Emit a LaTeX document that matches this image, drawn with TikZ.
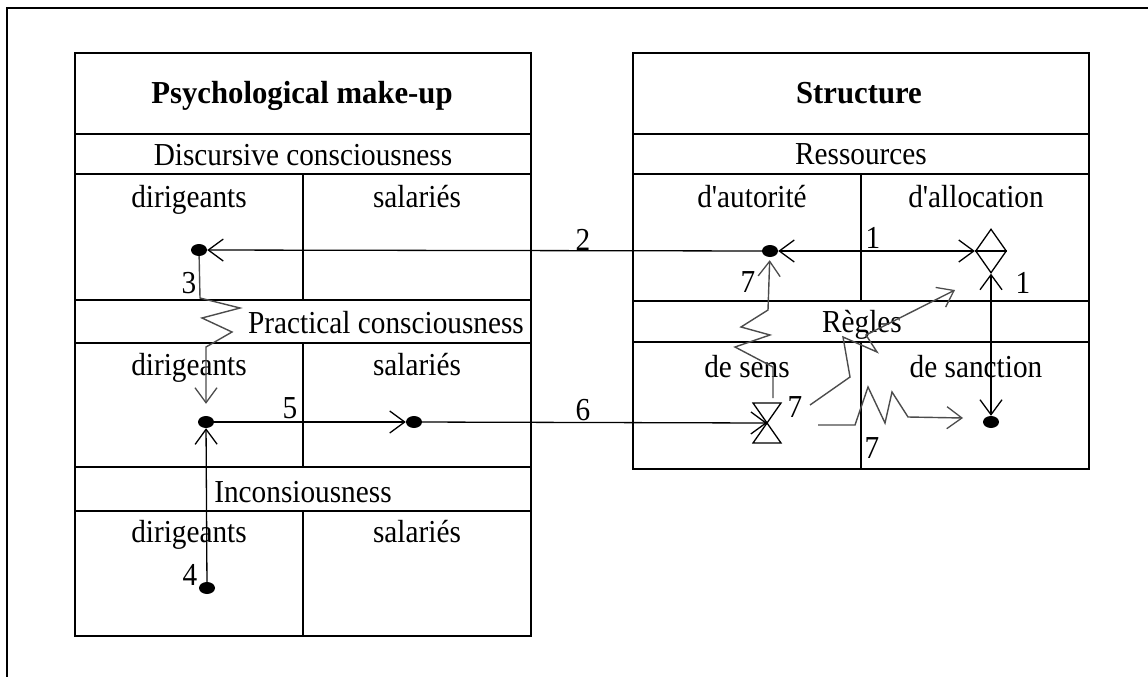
\documentclass[tikz,border=0pt]{standalone}
\usepackage{fontspec}
\usepackage{graphicx}
\setmainfont{Liberation Serif}
\usetikzlibrary{arrows.meta,shapes.geometric}
\newcommand\sqz[1]{\scalebox{0.915}[1]{#1}}
\newcommand\sqb[1]{\scalebox{0.96}[1]{\bfseries #1}}
\newcommand\sapos{\XeTeXglyph\XeTeXglyphindex "quotesingle"\relax}
\begin{document}
\begin{tikzpicture}[x=1pt,y=-1pt,
  frame/.style={line width=1.6pt},
  tbl/.style={line width=1.8pt},
  txt/.style={font=\fontsize{32}{36}\selectfont, inner sep=0pt, anchor=base},
  dot/.style={ellipse, fill=black, inner sep=0pt, minimum width=16pt, minimum height=12pt},
  barb/.tip={Straight Barb[length=15pt,width=22pt,line width=1.3pt]},
  conn/.style={line width=1.3pt, black},
  zig/.style={line width=1.4pt, black!70},
]
\useasboundingbox (0,0) rectangle (1148,677);
\draw[frame] (7,677) -- (7,8) -- (1148,8);

% ---------- left table ----------
\draw[tbl] (75,53) rectangle (531,636);
\foreach \y in {134,174,300,343,467,511} \draw[tbl] (75,\y) -- (531,\y);
\draw[tbl] (303,174) -- (303,300);
\draw[tbl] (303,343) -- (303,467);
\draw[tbl] (303,511) -- (303,636);
\node[txt] (tpsy) at (302,103) {\sqb{Psychological make-up}};
\node[txt] (tdisc) at (303,165) {\sqz{Discursive consciousness}};
\node[txt] (tdir1) at (189,207) {\sqz{dirigeants}};
\node[txt] (tsal1) at (417,207) {\sqz{salariés}};
\node[txt] (tprac) at (386,333) {\sqz{Practical consciousness}};
\node[txt] (tdir2) at (189,375) {\sqz{dirigeants}};
\node[txt] (tsal2) at (417,375) {\sqz{salariés}};
\node[txt] (tinc) at (303,502) {\sqz{Inconsiousness}};
\node[txt] (tdir3) at (189,542) {\sqz{dirigeants}};
\node[txt] (tsal3) at (417,542) {\sqz{salariés}};

% ---------- right table ----------
\draw[tbl] (633,53) rectangle (1089,469);
\foreach \y in {134,174,301,342} \draw[tbl] (633,\y) -- (1089,\y);
\draw[tbl] (861,174) -- (861,301);
\draw[tbl] (861,342) -- (861,469);
\node[txt] (tstr) at (859,103) {\sqb{Structure}};
\node[txt] (tres) at (861,164) {\sqz{Ressources}};
\node[txt] (taut) at (752,207) {\sqz{d\sapos autorité}};
\node[txt] (tall) at (976,207) {\sqz{d\sapos allocation}};
\node[txt] (treg) at (862,332) {\sqz{Règles}};
\node[txt] (tsen) at (747,377) {\sqz{de sens}};
\node[txt] (tsan) at (976,377) {\sqz{de sanction}};

% ---------- nodes ----------
\node[dot] (dd) at (199,250) {};
\node[dot] (pd) at (206,422) {};
\node[dot] (ps) at (414,422) {};
\node[dot] (id) at (207,588) {};
\node[dot] (aut) at (770,251) {};
\node[dot] (san) at (991,422) {};
\node[diamond, draw, line width=1.3pt, inner sep=0pt, minimum width=31pt, minimum height=44pt] (dia) at (991,251) {};
\draw[conn] (dia.west) -- (dia.east);
\coordinate (hg) at (767,423);
\draw[conn] (hg) ++(-14,-20) -- ++(28,0) -- ++(-28,40) -- ++(28,0) -- cycle;
\coordinate (hgtop) at (773,398);
\coordinate (s7b) at (810,405);
\coordinate (e7b) at (955,290);
\coordinate (s7c) at (818,425);
\coordinate (e7c) at (963,418);

% ---------- connectors ----------
\draw[conn, -barb] (aut) -- (dd);
\draw[conn, barb-barb] (aut) -- (dia.west);
\draw[conn, barb-barb] (san) -- (dia.south);
\draw[conn, -barb] (pd) -- (ps);
\draw[conn, -barb] (ps) -- (hg);
\draw[conn, -barb] (id) -- (pd);
\draw[zig, -barb, shorten >=12pt] (dd) -- (200,298) -- (240,308) -- (202,318) -- (232,332) -- (206,347) -- (pd);
\draw[zig, -barb, shorten >=3pt] (hgtop) -- (773,367) -- (735,347) -- (770,335) -- (741,327) -- (768,310) -- (aut);
\draw[zig, -barb] (s7b) -- (850,377) -- (843,337) -- (877,352) -- (866,335) -- (e7b);
\draw[zig, -barb] (s7c) -- (855,425) -- (868,387) -- (885,423) -- (892,392) -- (908,417) -- (e7c);

% ---------- labels ----------
\node[txt] (l1a) at (873,248) {\sqz{1}};
\node[txt] (l1b) at (1023,293) {\sqz{1}};
\node[txt] (l2) at (583,250) {\sqz{2}};
\node[txt] (l3) at (189,293) {\sqz{3}};
\node[txt] (l4) at (190,585) {\sqz{4}};
\node[txt] (l5) at (290,418) {\sqz{5}};
\node[txt] (l6) at (583,420) {\sqz{6}};
\node[txt] (l7a) at (748,292) {\sqz{7}};
\node[txt] (l7b) at (795,417) {\sqz{7}};
\node[txt] (l7c) at (872,458) {\sqz{7}};
\end{tikzpicture}
\end{document}
